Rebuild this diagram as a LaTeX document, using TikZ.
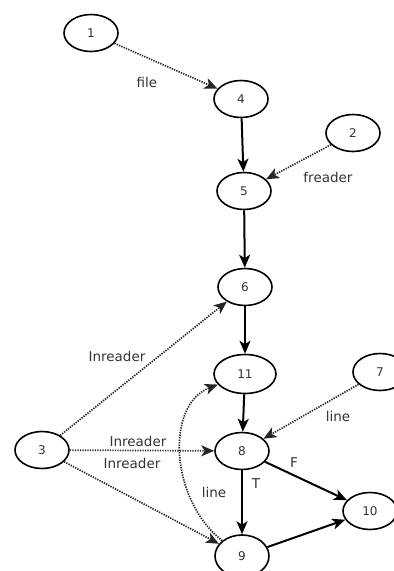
\documentclass[tikz,border=0pt]{standalone}
\usepackage{fontspec}
\setmainfont{DejaVu Sans}
\usetikzlibrary{arrows.meta,shapes.geometric}
\definecolor{txt}{HTML}{333333}
\tikzset{
  vtx/.style={draw=black, ellipse, line width=1.6pt, minimum width=54pt, minimum height=37pt, inner sep=0pt, text=txt, font=\fontsize{12}{13}\selectfont},
  lbl/.style={text=txt, font=\fontsize{13.5}{15}\selectfont, inner sep=0pt},
  solidarr/.style={line width=2pt, -{Stealth[length=13pt,width=11pt,inset=3.5pt]}},
  dotarr/.style={line width=1.7pt, dash pattern=on 1.3pt off 1.2pt, black!85, -{Stealth[length=13pt,width=11pt,inset=3.5pt]}},
}
\begin{document}
\begin{tikzpicture}[x=1pt,y=-1pt]
\useasboundingbox (0,0) rectangle (394,571);
\node[vtx] (n1) at (91,33) {1};
\node[vtx] (n4) at (241,99) {4};
\node[vtx] (n2) at (353,133) {2};
\node[vtx] (n5) at (244,191) {5};
\node[vtx] (n6) at (245,287) {6};
\node[vtx, minimum width=62pt, minimum height=39pt] (n11) at (245,374) {11};
\node[vtx] (n7) at (380,372) {7};
\node[vtx] (n3) at (42,450) {3};
\node[vtx] (n8) at (242,451) {8};
\node[vtx] (n10) at (370,511) {10};
\node[vtx, minimum height=42pt] (n9) at (242,556) {9};

\draw[dotarr] (n1) -- (n4);
\draw[dotarr] (n2) -- (n5);
\draw[solidarr] (n4) -- (n5);
\draw[solidarr] (n5) -- (n6);
\draw[solidarr] (n6) -- (n11);
\draw[solidarr] (n11) -- (n8);
\draw[solidarr] (n8) -- (n9);
\draw[solidarr] (n8) -- (n10);
\draw[solidarr] (n9) -- (n10);
\draw[dotarr] (n3) -- (n6);
\draw[dotarr] (n3) -- (n8);
\draw[dotarr] (n3) -- (n9);
\draw[dotarr] (n7) -- (n8);
\draw[dotarr] (n9) .. controls (170,500) and (165,405) .. (n11);

\node[lbl] (lfile) at (147,82) {file};
\node[lbl] (lfreader) at (328,177) {freader};
\node[lbl] (lin1) at (117,356) {Inreader};
\node[lbl] (lin2) at (138,441) {Inreader};
\node[lbl] (lin3) at (132,463) {Inreader};
\node[lbl] (lline1) at (338,416) {line};
\node[lbl] (lline2) at (214,492) {line};
\node[lbl] (lF) at (294,463) {F};
\node[lbl] (lT) at (256,484) {T};
\end{tikzpicture}
\end{document}
